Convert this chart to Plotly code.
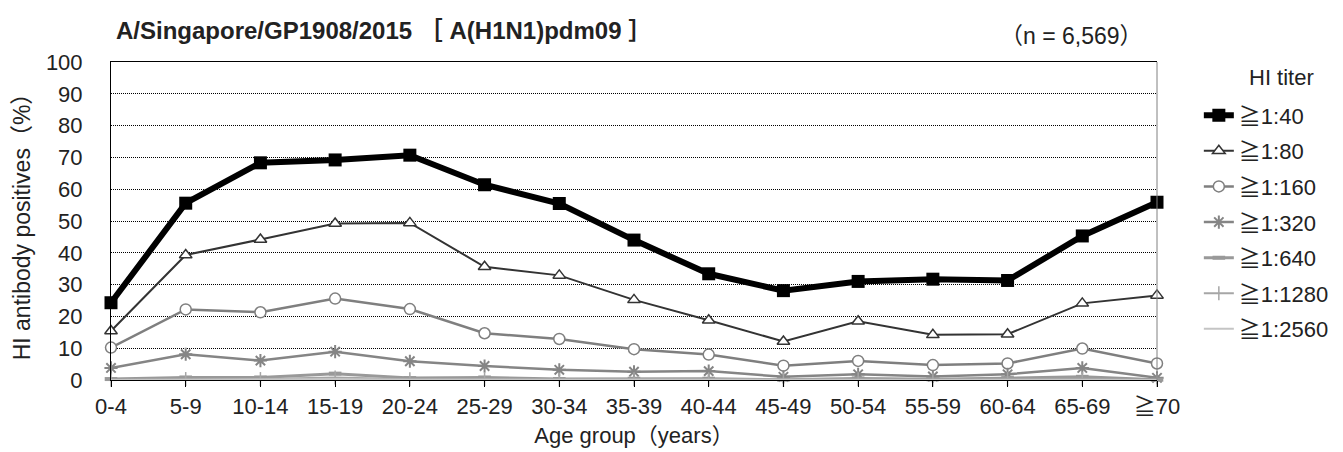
import plotly.graph_objects as go

age_groups = ["0-4", "5-9", "10-14", "15-19", "20-24", "25-29", "30-34", "35-39",
              "40-44", "45-49", "50-54", "55-59", "60-64", "65-69", "≧70"]

titer_40 = [24.3, 55.6, 68.3, 69.2, 70.7, 61.4, 55.5, 44.0, 33.4, 28.1, 31.0, 31.7, 31.3, 45.3, 55.9]
titer_80 = [15.4, 39.3, 44.2, 49.2, 49.4, 35.6, 32.9, 25.2, 18.8, 12.1, 18.5, 14.2, 14.4, 24.1, 26.6]
titer_160 = [10.2, 22.2, 21.3, 25.6, 22.3, 14.7, 12.9, 9.7, 8.0, 4.5, 6.0, 4.7, 5.2, 9.9, 5.2]
titer_320 = [3.8, 8.1, 6.1, 8.9, 5.9, 4.4, 3.2, 2.6, 2.8, 1.0, 1.8, 1.1, 1.8, 3.8, 0.7]
titer_640 = [0.3, 0.8, 0.8, 2.0, 0.6, 0.8, 0.3, 0.4, 0.4, 0.1, 0.5, 0.2, 0.6, 1.0, 0.1]
titer_1280 = [0.1, 0.3, 0.3, 0.8, 0.2, 0.3, 0.1, 0.2, 0.2, 0.0, 0.2, 0.1, 0.3, 0.4, 0.0]
titer_2560 = [0.0, 0.1, 0.1, 0.3, 0.1, 0.1, 0.0, 0.1, 0.1, 0.0, 0.1, 0.0, 0.1, 0.1, 0.0]

series_names = ["≧1:40", "≧1:80", "≧1:160", "≧1:320", "≧1:640", "≧1:1280", "≧1:2560"]
series_values = [titer_40, titer_80, titer_160, titer_320, titer_640, titer_1280, titer_2560]

y_ticks = [0, 10, 20, 30, 40, 50, 60, 70, 80, 90, 100]

title_text = "A/Singapore/GP1908/2015 ［ A(H1N1)pdm09 ］"
n_text = "（n = 6,569）"
legend_title = "HI titer"
x_title = "Age group（years）"
y_title = "HI antibody positives（%）"

styles = [
    dict(line=dict(color="#000000", width=6),
         marker=dict(symbol="square", size=13, color="#000000")),
    dict(line=dict(color="#333333", width=2),
         marker=dict(symbol="triangle-up", size=11, color="#ffffff",
                     line=dict(color="#333333", width=1.5))),
    dict(line=dict(color="#7f7f7f", width=2.5),
         marker=dict(symbol="circle", size=11, color="#ffffff",
                     line=dict(color="#7f7f7f", width=1.5))),
    dict(line=dict(color="#858585", width=2.5),
         marker=dict(symbol="asterisk-open", size=11,
                     line=dict(color="#7f7f7f", width=2))),
    dict(line=dict(color="#999999", width=3),
         marker=dict(symbol="line-ew-open", size=9,
                     line=dict(color="#999999", width=4))),
    dict(line=dict(color="#a6a6a6", width=2),
         marker=dict(symbol="line-ns-open", size=10,
                     line=dict(color="#a6a6a6", width=1.5))),
    dict(line=dict(color="#c4c4c4", width=2),
         marker=dict(size=1, opacity=0)),
]

font_family = "Liberation Sans, Arial, Noto Sans CJK JP, sans-serif"

fig = go.Figure()
for i, (name, vals, st) in enumerate(zip(series_names, series_values, styles)):
    mode = "lines" if i == 6 else "lines+markers"
    fig.add_trace(go.Scatter(
        x=age_groups, y=vals, name=name, mode=mode,
        line=st["line"], marker=st["marker"], cliponaxis=False,
        legendgroup=f"g{i}",
    ))

fig.update_layout(
    width=1343, height=452,
    margin=dict(l=103, r=194, t=54, b=80, autoexpand=False),
    paper_bgcolor="white", plot_bgcolor="white",
    font=dict(family=font_family, size=22, color="#222222"),
    showlegend=True,
    legend=dict(
        x=1.040, y=0.898, xanchor="left", yanchor="top",
        traceorder="grouped", tracegroupgap=4,
        font=dict(size=22, color="#222222"),
        bgcolor="rgba(0,0,0,0)",
    ),
    xaxis=dict(
        type="category", range=[0, 14], automargin=False,
        showline=True, linecolor="#000000", linewidth=1, mirror=True,
        ticks="outside", ticklen=6, tickcolor="#000000",
        showgrid=False, zeroline=False,
        tickfont=dict(size=22), ticklabelstandoff=1,
        title=dict(text=x_title, font=dict(size=22), standoff=9),
    ),
    yaxis=dict(
        range=[0, 100], tickvals=y_ticks, automargin=False,
        showline=True, linecolor="#000000", linewidth=1,
        ticks="", showgrid=True, gridcolor="#000000", gridwidth=1, griddash="1px,1px",
        zeroline=False,
        tickfont=dict(size=22), ticklabelstandoff=23,
        title=dict(text=y_title, font=dict(size=23), standoff=8),
    ),
    annotations=[
        dict(text=f"<b>{title_text}</b>", xref="paper", yref="paper",
             x=(106 - 103) / 1046, y=1 + (54 - 23) / 318, xanchor="left", yanchor="middle",
             showarrow=False, font=dict(size=24, color="#222222")),
        dict(text=n_text, xref="paper", yref="paper",
             x=(1137 - 103) / 1046, y=1 + (54 - 28) / 318, xanchor="right", yanchor="middle",
             showarrow=False, font=dict(size=23, color="#222222")),
        dict(text=legend_title, xref="paper", yref="paper",
             x=(1273 - 103) / 1046, y=1 - (69 - 54) / 318, xanchor="center", yanchor="middle",
             showarrow=False, font=dict(size=22, color="#222222")),
    ],
    shapes=[
        dict(type="line", xref="paper", yref="paper", x0=1, x1=1, y0=0, y1=1,
             line=dict(color="#808080", width=1)),
    ],
)

fig.write_html("out.html")
